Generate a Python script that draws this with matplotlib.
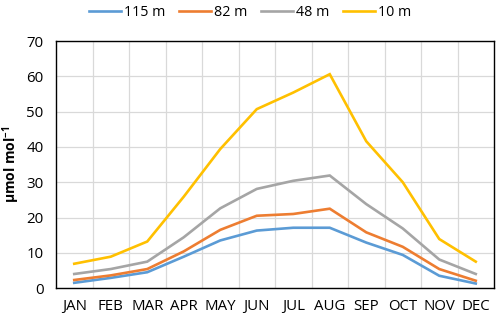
import numpy as np
import matplotlib
matplotlib.use("Agg")
import matplotlib.pyplot as plt
from matplotlib.ticker import MultipleLocator, FixedLocator

plt.rcParams['font.family'] = ['Open Sans', 'DejaVu Sans']

months = ['JAN', 'FEB', 'MAR', 'APR', 'MAY', 'JUN', 'JUL', 'AUG', 'SEP', 'OCT', 'NOV', 'DEC']
h115 = [1.5, 2.9, 4.5, 8.9, 13.5, 16.3, 17.1, 17.1, 12.9, 9.4, 3.5, 1.3]
h82 = [2.3, 3.6, 5.4, 10.4, 16.5, 20.5, 21.0, 22.5, 15.8, 11.7, 5.4, 2.1]
h48 = [4.0, 5.4, 7.5, 14.4, 22.6, 28.1, 30.4, 31.9, 23.8, 16.9, 8.1, 4.0]
h10 = [6.9, 8.9, 13.2, 25.9, 39.4, 50.7, 55.4, 60.6, 41.6, 30.0, 13.9, 7.5]

series = [('115 m', h115, '#5B9BD5'), ('82 m', h82, '#ED7D31'),
          ('48 m', h48, '#A5A5A5'), ('10 m', h10, '#FFC000')]

fig = plt.figure(figsize=(5, 3.18), dpi=100)
ax = fig.add_axes([0.112, 0.094, 0.876, 0.777])

x = np.arange(len(months))
for name, vals, col in series:
    ax.plot(x, vals, color=col, lw=1.9, label=name, solid_joinstyle='miter')

ax.set_xlim(-0.5, 11.5)
ax.set_ylim(0, 70)
ax.yaxis.set_major_locator(MultipleLocator(10))
ax.set_xticks(x)
ax.set_xticklabels(months)
ax.xaxis.set_minor_locator(FixedLocator(np.arange(0.5, 11.5, 1)))
ax.grid(True, axis='y', which='major', color='#d9d9d9', lw=0.9)
ax.grid(True, axis='x', which='minor', color='#d9d9d9', lw=0.9)
ax.set_axisbelow(True)
ax.tick_params(which='both', length=0, labelsize=10.8, colors='black')
ax.tick_params(axis='x', pad=8)
ax.tick_params(axis='y', pad=9)
for s in ax.spines.values():
    s.set_linewidth(1.0)
    s.set_color('black')

ax.set_ylabel('µmol mol$^{\\mathregular{-1}}$', fontsize=10, fontweight='bold', labelpad=3)

fig.legend(loc='upper center', bbox_to_anchor=(0.5, 1.025), ncol=4, frameon=False,
           fontsize=10.3, handlelength=2.2, handletextpad=0.2, columnspacing=1.0)

fig.savefig('out.png', dpi=100)
